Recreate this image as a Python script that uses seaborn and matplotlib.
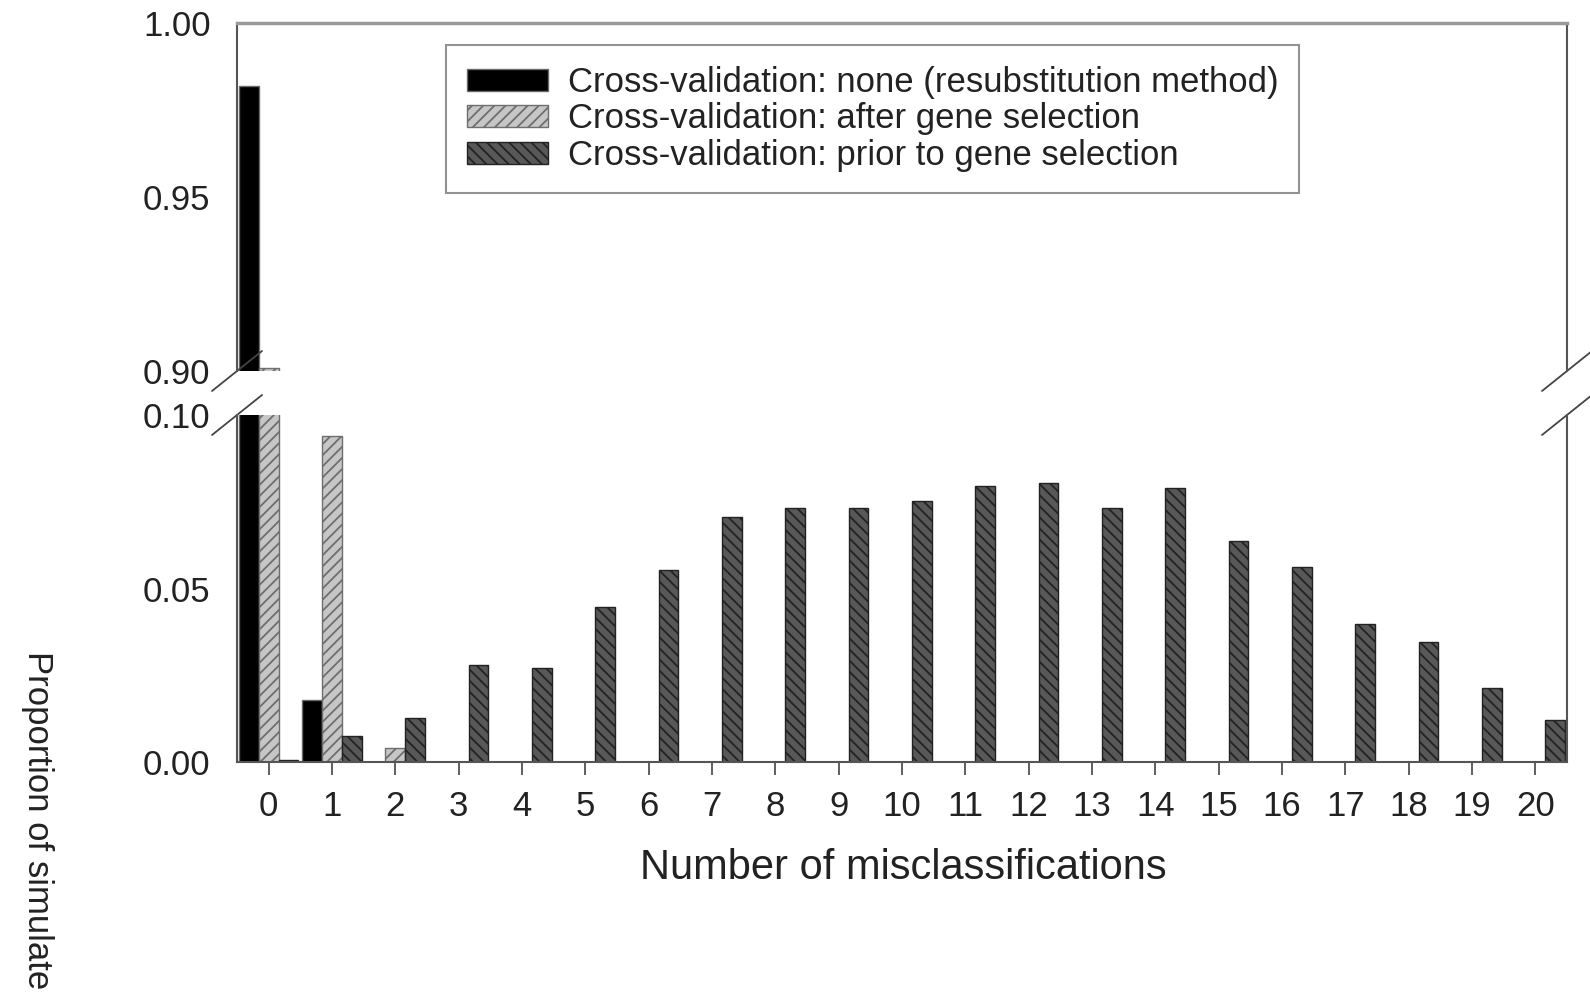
import matplotlib
matplotlib.use("Agg")
import matplotlib.pyplot as plt
import matplotlib.patches as mpatches
import seaborn as sns
import pandas as pd

# ---- data ----
misclassifications = list(range(21))
series_names = [
    "Cross-validation: none (resubstitution method)",
    "Cross-validation: after gene selection",
    "Cross-validation: prior to gene selection",
]
none_resub = [0.982, 0.018, 0, 0, 0, 0, 0, 0, 0, 0, 0, 0, 0, 0, 0, 0, 0, 0, 0, 0, 0]
after_sel = [0.901, 0.094, 0.004, 0, 0, 0, 0, 0, 0, 0, 0, 0, 0, 0, 0, 0, 0, 0, 0, 0, 0]
prior_sel = [0.0005, 0.0076, 0.0126, 0.0280, 0.0272, 0.0447, 0.0553, 0.0705, 0.0731, 0.0731,
             0.0751, 0.0795, 0.0804, 0.0731, 0.0789, 0.0637, 0.0561, 0.0398, 0.0345, 0.0213, 0.0120]
top_yticks = [0.90, 0.95, 1.00]
bottom_yticks = [0.00, 0.05, 0.10]

df = pd.DataFrame({
    "n": misclassifications * 3,
    "prop": none_resub + after_sel + prior_sel,
    "method": [series_names[0]] * 21 + [series_names[1]] * 21 + [series_names[2]] * 21,
})

sns.set_theme(style="white")
plt.rcParams["font.family"] = ["Liberation Sans", "DejaVu Sans"]
plt.rcParams["hatch.linewidth"] = 1.3

W, H = 1590, 1002
fig = plt.figure(figsize=(W / 100, H / 100), dpi=100)
left, right = 237 / W, 1567 / W
ax_top = fig.add_axes([left, 1 - 371 / H, right - left, (371 - 23) / H])
ax_bot = fig.add_axes([left, 1 - 762 / H, right - left, (762 - 415) / H])

face = ["#000000", "#c6c6c6", "#585858"]
edge = ["#6a6a6a", "#6e6e6e", "#222222"]
hatches = [None, "///", "\\\\\\"]

for ax in (ax_top, ax_bot):
    sns.barplot(data=df, x="n", y="prop", hue="method", hue_order=series_names,
                order=misclassifications, palette=face, width=0.94, dodge=True,
                saturation=1, ax=ax, legend=False, errorbar=None)
    for cont, ec, h in zip(ax.containers, edge, hatches):
        for bar in cont:
            bar.set_edgecolor(ec)
            bar.set_linewidth(1.0)
            if h:
                bar.set_hatch(h)
    ax.set_xlim(-0.5, 20.5)
    ax.set_xlabel("")
    ax.set_ylabel("")
    ax.tick_params(axis="both", direction="out", length=9, width=1.2, color="#444444",
                   labelsize=25, pad=10, labelcolor="#222222")
    for s in ax.spines.values():
        s.set_color("#555555")
        s.set_linewidth(1.5)

ax_top.set_ylim(0.90, 1.00)
ax_top.set_yticks(top_yticks)
ax_top.set_yticklabels([f"{v:.2f}" for v in top_yticks])
ax_top.spines["bottom"].set_visible(False)
ax_top.spines["top"].set_color("#9a9a9a")
ax_top.spines["top"].set_linewidth(2.5)
ax_top.tick_params(axis="x", bottom=False, labelbottom=False)

ax_bot.set_ylim(0.0, 0.10)
ax_bot.set_yticks(bottom_yticks)
ax_bot.set_yticklabels([f"{v:.2f}" for v in bottom_yticks])
ax_bot.spines["top"].set_visible(False)
ax_bot.tick_params(axis="x", bottom=True, pad=11)
ax_bot.set_xticks(misclassifications)
ax_bot.set_xticklabels([str(v) for v in misclassifications])

# break marks
dx_top, dy_top = 25 / 1330, 20 / 348
dx_bot, dy_bot = 25 / 1330, 20 / 347
kw = dict(color="#444444", lw=1.3, clip_on=False)
for xc in (0, 1):
    ax_top.plot([xc - dx_top, xc + dx_top], [0 - dy_top, 0 + dy_top], transform=ax_top.transAxes, **kw)
    ax_bot.plot([xc - dx_bot, xc + dx_bot], [1 - dy_bot, 1 + dy_bot], transform=ax_bot.transAxes, **kw)

# legend
handles = [mpatches.Patch(facecolor=f, edgecolor=e, hatch=h, linewidth=1.0)
           for f, e, h in zip(face, edge, hatches)]
leg = ax_top.legend(handles=handles, labels=series_names, loc="upper left",
                    bbox_to_anchor=(446 / W, 1 - 45 / H),
                    bbox_transform=fig.transFigure, fontsize=25, frameon=True,
                    fancybox=False, handlelength=2.35, handleheight=0.6,
                    labelspacing=0.1, borderpad=0.6, handletextpad=0.55,
                    borderaxespad=0)
leg.get_frame().set_edgecolor("#777777")
leg.get_frame().set_linewidth(1.5)
for t in leg.get_texts():
    t.set_color("#222222")

fig.text(903 / W, 1 - 868 / H, "Number of misclassifications", ha="center", va="center",
         fontsize=30, color="#222222")
fig.text(37 / W, 1 - 651 / H, "Proportion of simulate", ha="center", va="top",
         rotation=270, fontsize=25, color="#222222")

fig.savefig("out.png", dpi=100)
